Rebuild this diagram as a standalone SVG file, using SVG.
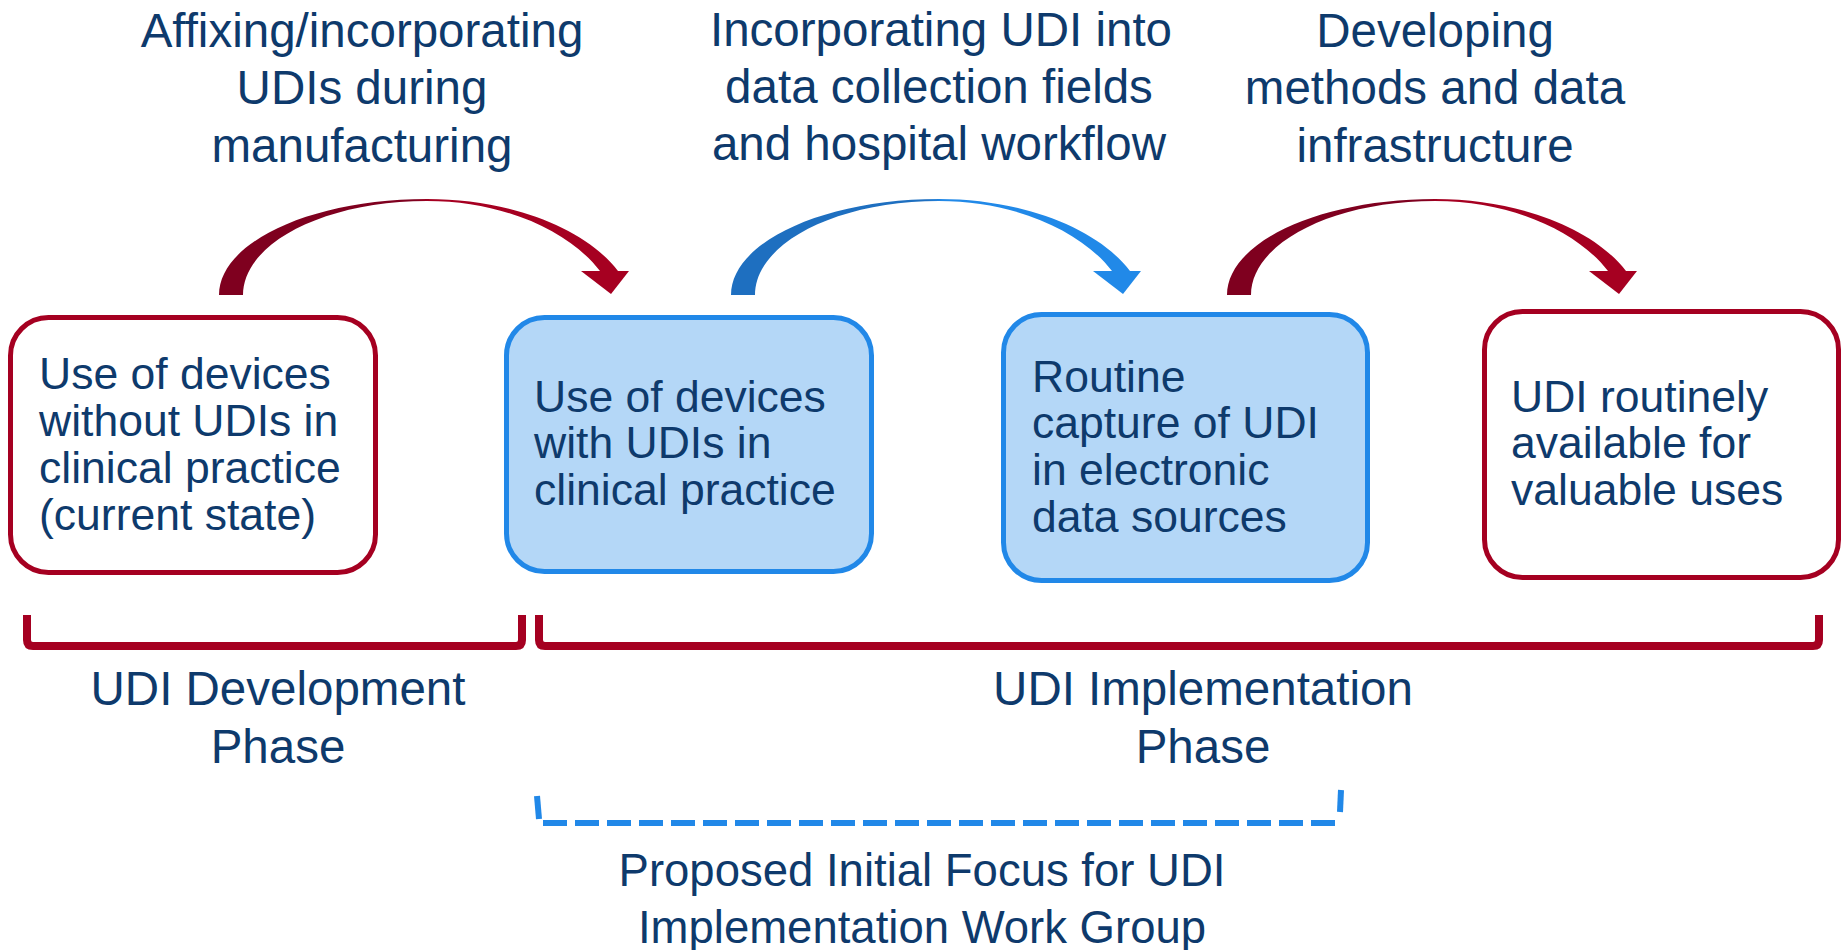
<svg xmlns="http://www.w3.org/2000/svg" width="1843" height="950" viewBox="0 0 1843 950">
<defs>
<linearGradient id="gRed" x1="0" y1="0" x2="1" y2="0">
<stop offset="0" stop-color="#7F001F"/><stop offset="0.49" stop-color="#7F001F"/><stop offset="0.53" stop-color="#A60021"/><stop offset="1" stop-color="#A60021"/>
</linearGradient>
<linearGradient id="gBlue" x1="0" y1="0" x2="1" y2="0">
<stop offset="0" stop-color="#1E6FC0"/><stop offset="0.49" stop-color="#1E6FC0"/><stop offset="0.53" stop-color="#2189E8"/><stop offset="1" stop-color="#2189E8"/>
</linearGradient>
<path id="arc" d="M219,295 C219,242 312,199 427,199 C510,199 585,228 618,271 L600,271 C570,232 505,201 427,201 C325,201 243,243 243,295 Z"/>
<path id="head" d="M581,271 L629,271 L611,294 Z"/>
</defs>
<style>
text{font-family:"Liberation Sans",Arial,sans-serif;fill:#0E3A6C}
.lbl{font-size:47.5px;text-anchor:middle}
.foc{font-size:45.5px;text-anchor:middle}
.box{font-size:44.5px}
.red{fill:#FFFFFF;stroke:#A50021;stroke-width:5}
.blue{fill:#B4D7F7;stroke:#2188E8;stroke-width:5}
.brk{fill:none;stroke:#A50021;stroke-width:8;stroke-linejoin:round}
.dash{fill:none;stroke:#2188E8;stroke-width:6}
</style>
<rect width="1843" height="950" fill="#FFFFFF"/>

<g id="connectors">
<g id="arrow1"><use href="#arc" fill="url(#gRed)"/><use href="#head" fill="#A60021"/></g>
<g id="arrow2" transform="translate(512,0)"><use href="#arc" fill="url(#gBlue)"/><use href="#head" fill="#2189E8"/></g>
<g id="arrow3" transform="translate(1008,0)"><use href="#arc" fill="url(#gRed)"/><use href="#head" fill="#A60021"/></g>
</g>

<g id="label1">
<text x="362" y="47" class="lbl">Affixing/incorporating</text>
<text x="362" y="104" class="lbl">UDIs during</text>
<text x="362" y="162" class="lbl">manufacturing</text>
</g>
<g id="label2">
<text x="941" y="46" class="lbl">Incorporating UDI into</text>
<text x="939" y="103" class="lbl">data collection fields</text>
<text x="939" y="160" class="lbl">and hospital workflow</text>
</g>
<g id="label3">
<text x="1435" y="47" class="lbl">Developing</text>
<text x="1435" y="104" class="lbl">methods and data</text>
<text x="1435" y="162" class="lbl">infrastructure</text>
</g>

<g id="node1">
<rect x="10.5" y="317.5" width="365" height="255" rx="38" class="red"/>
<text x="39" y="389" class="box">Use of devices</text>
<text x="39" y="436" class="box">without UDIs in</text>
<text x="39" y="483" class="box">clinical practice</text>
<text x="39" y="530" class="box">(current state)</text>
</g>
<g id="node2">
<rect x="506.5" y="317.5" width="365" height="254" rx="38" class="blue"/>
<text x="534" y="412" class="box">Use of devices</text>
<text x="534" y="458" class="box">with UDIs in</text>
<text x="534" y="505" class="box">clinical practice</text>
</g>
<g id="node3">
<rect x="1003.5" y="314.5" width="364" height="266" rx="38" class="blue"/>
<text x="1032" y="392" class="box">Routine</text>
<text x="1032" y="438" class="box">capture of UDI</text>
<text x="1032" y="485" class="box">in electronic</text>
<text x="1032" y="532" class="box">data sources</text>
</g>
<g id="node4">
<rect x="1484.5" y="311.5" width="354" height="266" rx="38" class="red"/>
<text x="1511" y="412" class="box">UDI routinely</text>
<text x="1511" y="458" class="box">available for</text>
<text x="1511" y="505" class="box">valuable uses</text>
</g>

<g id="bracket-development">
<path class="brk" d="M27,615 V640 Q27,646 33,646 H516 Q522,646 522,640 V615"/>
<text x="278" y="705" class="lbl">UDI Development</text>
<text x="278" y="763" class="lbl">Phase</text>
</g>
<g id="bracket-implementation">
<path class="brk" d="M539,615 V640 Q539,646 545,646 H1813 Q1819,646 1819,640 V615"/>
<text x="1203" y="705" class="lbl">UDI Implementation</text>
<text x="1203" y="763" class="lbl">Phase</text>
</g>
<g id="bracket-focus">
<path class="dash" d="M537,796 L539,819"/>
<path class="dash" d="M543,823 H1340" stroke-dasharray="24 8"/>
<path class="dash" d="M1341,790 L1340,812"/>
<text x="922" y="886" class="foc">Proposed Initial Focus for UDI</text>
<text x="922" y="943" class="foc">Implementation Work Group</text>
</g>
</svg>
